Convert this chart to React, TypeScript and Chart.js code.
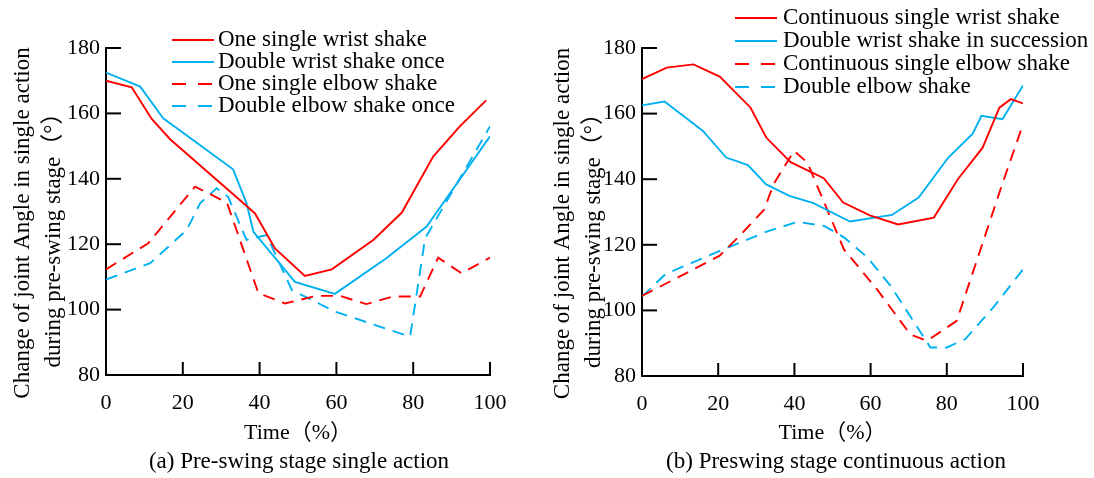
import React, { useEffect, useRef } from "react";
import { Chart, registerables } from "chart.js";

Chart.register(...registerables);

const FONT = "'Liberation Serif', 'Times New Roman', 'Noto Sans CJK SC', serif";
const RED = "#FF0000";
const BLUE = "#00B0F0";

// shared axes
const timeTicks = [0, 20, 40, 60, 80, 100];
const angleTicks = [80, 100, 120, 140, 160, 180];
// trailing spaces shift the centred rotated lines down, as in the reference
const yTitle = ["Change of joint Angle in single action    ", "during pre-swing stage（°）        "];
const xTitle = "Time（%）";

// (a) Pre-swing stage single action
const aWristOneT = [0, 6.7, 11.9, 16.7, 35.8, 38.8, 44, 51.8, 58.8, 69.6, 77, 85.2, 92.2, 99];
const aWristOneV = [170, 168, 158.3, 152.1, 132.5, 129.4, 118.7, 110.3, 112.3, 121.3, 129.6, 146.8, 156.1, 164];
const aWristDoubleT = [0, 8.9, 14.9, 33.1, 36.6, 38.4, 49.2, 59.6, 73, 83.5, 100];
const aWristDoubleV = [172.5, 168.2, 158.5, 142.9, 132.5, 123.8, 108.5, 104.8, 115.7, 125.4, 153];
const aElbowOneT = [0, 11, 23.2, 31.5, 39.7, 46.6, 54.8, 60.9, 67.8, 74.8, 81.8, 86.5, 92.6, 100];
const aElbowOneV = [112.3, 120.3, 137.6, 132.7, 105, 101.9, 104.2, 104.2, 101.7, 104, 104, 115.9, 111.1, 115.9];
const aElbowDoubleT = [0, 11.5, 21, 24.5, 28.8, 31.8, 36.6, 41.8, 48.4, 59.6, 79.2, 83.1, 100];
const aElbowDoubleV = [109.2, 114.2, 124.3, 132.5, 137.1, 134.5, 121.3, 122.8, 106, 99.4, 91.7, 121.8, 156];

// (b) Preswing stage continuous action
const bWristContT = [0, 6.5, 13.5, 20.4, 28.5, 32.6, 39, 47.7, 52.8, 59.8, 67.2, 76.6, 82.9, 89.4, 93.8, 96.8, 100];
const bWristContV = [170.5, 174, 175, 171.3, 161.8, 152.7, 145.2, 140.3, 132.9, 129, 126.2, 128.3, 140, 149.6, 161.8, 164.4, 163.1];
const bWristSuccT = [0, 5.9, 16, 22.1, 27.8, 32.6, 38.7, 45, 54.6, 65.6, 72.6, 80.4, 86.8, 89.1, 94.6, 100];
const bWristSuccV = [162.5, 163.7, 154.7, 146.6, 144.3, 138.4, 134.9, 132.7, 127.1, 129.1, 134.4, 146.6, 153.9, 159.3, 158.3, 168.6];
const bElbowContT = [0, 20.3, 26, 32.1, 34.5, 39.9, 43.4, 53, 61.7, 70.4, 74.8, 82.6, 94.7, 100];
const bElbowContV = [104.4, 116.6, 123.2, 130.8, 138.4, 148.6, 145.1, 118.6, 106.4, 92.7, 90.7, 96.8, 139, 156.7];
const bElbowDoubleT = [0, 6.1, 20.3, 33.1, 40.9, 47.9, 53.1, 59.2, 65.3, 75.7, 80, 84.8, 92.2, 100];
const bElbowDoubleV = [104.2, 111, 118.1, 124.2, 127, 125.7, 122.2, 116.1, 107.4, 88.7, 88.7, 91.2, 100.9, 112.5];

type Series = { label: string; t: number[]; v: number[]; color: string; dashed: boolean };

const seriesA: Series[] = [
  { label: "One single wrist shake", t: aWristOneT, v: aWristOneV, color: RED, dashed: false },
  { label: "Double wrist shake once", t: aWristDoubleT, v: aWristDoubleV, color: BLUE, dashed: false },
  { label: "One single elbow shake", t: aElbowOneT, v: aElbowOneV, color: RED, dashed: true },
  { label: "Double elbow shake once", t: aElbowDoubleT, v: aElbowDoubleV, color: BLUE, dashed: true },
];
const seriesB: Series[] = [
  { label: "Continuous single wrist shake", t: bWristContT, v: bWristContV, color: RED, dashed: false },
  { label: "Double wrist shake in succession", t: bWristSuccT, v: bWristSuccV, color: BLUE, dashed: false },
  { label: "Continuous single elbow shake", t: bElbowContT, v: bElbowContV, color: RED, dashed: true },
  { label: "Double elbow shake", t: bElbowDoubleT, v: bElbowDoubleV, color: BLUE, dashed: true },
];

const legendPlugin = {
  id: "customLegend",
  afterDatasetsDraw(chart: any, _args: any, opts: any) {
    const ctx = chart.ctx as CanvasRenderingContext2D;
    ctx.save();
    chart.data.datasets.forEach((ds: any, i: number) => {
      const y = opts.y0 + i * opts.step;
      ctx.strokeStyle = ds.borderColor;
      ctx.lineWidth = 2;
      ctx.setLineDash(ds.borderDash && ds.borderDash.length ? [14, 12] : []);
      ctx.beginPath();
      ctx.moveTo(opts.x0, y);
      ctx.lineTo(opts.x1, y);
      ctx.stroke();
      ctx.setLineDash([]);
      ctx.fillStyle = "#000";
      ctx.font = `23px ${FONT}`;
      ctx.textBaseline = "middle";
      ctx.textAlign = "left";
      ctx.fillText(ds.label, opts.tx, y);
    });
    ctx.restore();
  },
};

const inwardTicks = {
  id: "inwardTicks",
  afterDraw(chart: any) {
    const { ctx, chartArea } = chart;
    const xs = chart.scales.x;
    const ys = chart.scales.y;
    ctx.save();
    ctx.strokeStyle = "#000";
    ctx.lineWidth = 2;
    xs.ticks.forEach((t: any) => {
      const px = xs.getPixelForValue(t.value);
      ctx.beginPath();
      ctx.moveTo(px, chartArea.bottom);
      ctx.lineTo(px, chartArea.bottom - 13);
      ctx.stroke();
    });
    ys.ticks.forEach((t: any) => {
      const py = ys.getPixelForValue(t.value);
      ctx.beginPath();
      ctx.moveTo(chartArea.left, py);
      ctx.lineTo(chartArea.left + 15, py);
      ctx.stroke();
    });
    ctx.restore();
  },
};

type PanelProps = {
  series: Series[];
  left: number;
  width: number;
  yAxisWidth: number;
  rightPad: number;
  xAxisHeight: number;
  legend: { x0: number; x1: number; tx: number; y0: number; step: number };
};

function Panel({ series, left, width, yAxisWidth, rightPad, xAxisHeight, legend }: PanelProps) {
  const ref = useRef<HTMLCanvasElement | null>(null);
  useEffect(() => {
    if (!ref.current) return;
    const tickFont = { family: FONT, size: 22 };
    const chart = new Chart(ref.current, {
      type: "line",
      data: {
        datasets: series.map((s) => ({
          label: s.label,
          data: s.t.map((t, i) => ({ x: t, y: s.v[i] })),
          borderColor: s.color,
          backgroundColor: s.color,
          borderWidth: 1.9,
          borderDash: s.dashed ? [12, 8] : [],
          pointRadius: 0,
          tension: 0,
          fill: false,
        })),
      },
      options: {
        responsive: false,
        animation: false,
        layout: { padding: { left: 0, right: rightPad, top: 48, bottom: 30 } },
        plugins: {
          legend: { display: false },
          tooltip: { enabled: false },
          customLegend: legend,
        } as any,
        scales: {
          x: {
            type: "linear",
            min: 0,
            max: 100,
            afterBuildTicks: (s: any) => {
              s.ticks = timeTicks.map((v) => ({ value: v }));
            },
            grid: { display: false, drawTicks: false },
            border: { display: true, color: "#000", width: 2 },
            ticks: { font: tickFont, color: "#000", padding: 15, maxRotation: 0 },
            title: {
              display: true,
              text: xTitle,
              color: "#000",
              font: { family: FONT, size: 22, lineHeight: 1.2 },
              padding: { top: 0, bottom: 2 },
            },
            afterFit: (s: any) => {
              s.height = xAxisHeight;
            },
          },
          y: {
            type: "linear",
            min: 80,
            max: 180,
            afterBuildTicks: (s: any) => {
              s.ticks = angleTicks.map((v) => ({ value: v }));
            },
            grid: { display: false, drawTicks: false },
            border: { display: true, color: "#000", width: 2 },
            ticks: { font: tickFont, color: "#000", padding: 6 },
            title: {
              display: true,
              text: yTitle,
              color: "#000",
              font: { family: FONT, size: 23, lineHeight: 1.35 },
              padding: { top: 7, bottom: 0 },
            },
            afterFit: (s: any) => {
              s.width = yAxisWidth;
            },
          },
        },
      } as any,
      plugins: [legendPlugin, inwardTicks],
    });
    return () => chart.destroy();
  }, []);
  return (
    <canvas
      ref={ref}
      width={width}
      height={478}
      style={{ position: "absolute", left, top: 0, width, height: 478, display: "block" }}
    />
  );
}

const captionStyle: React.CSSProperties = {
  position: "absolute",
  top: 448,
  width: 500,
  textAlign: "center",
  fontFamily: FONT,
  fontSize: 23,
  lineHeight: "26px",
  color: "#000",
  whiteSpace: "nowrap",
};

export default function App() {
  return (
    <div style={{ position: "fixed", left: 0, top: 0, width: 1094, height: 478, background: "#fff", overflow: "hidden" }}>
      <Panel
        series={seriesA}
        left={0}
        width={540}
        yAxisWidth={106}
        rightPad={50}
        xAxisHeight={73}
        legend={{ x0: 172, x1: 214, tx: 218, y0: 40, step: 22 }}
      />
      <Panel
        series={seriesB}
        left={540}
        width={554}
        yAxisWidth={102}
        rightPad={71}
        xAxisHeight={72}
        legend={{ x0: 195, x1: 237, tx: 243, y0: 18, step: 23 }}
      />
      <div style={{ ...captionStyle, left: 299 - 250 }}>(a) Pre-swing stage single action</div>
      <div style={{ ...captionStyle, left: 836 - 250 }}>(b) Preswing stage continuous action</div>
    </div>
  );
}
